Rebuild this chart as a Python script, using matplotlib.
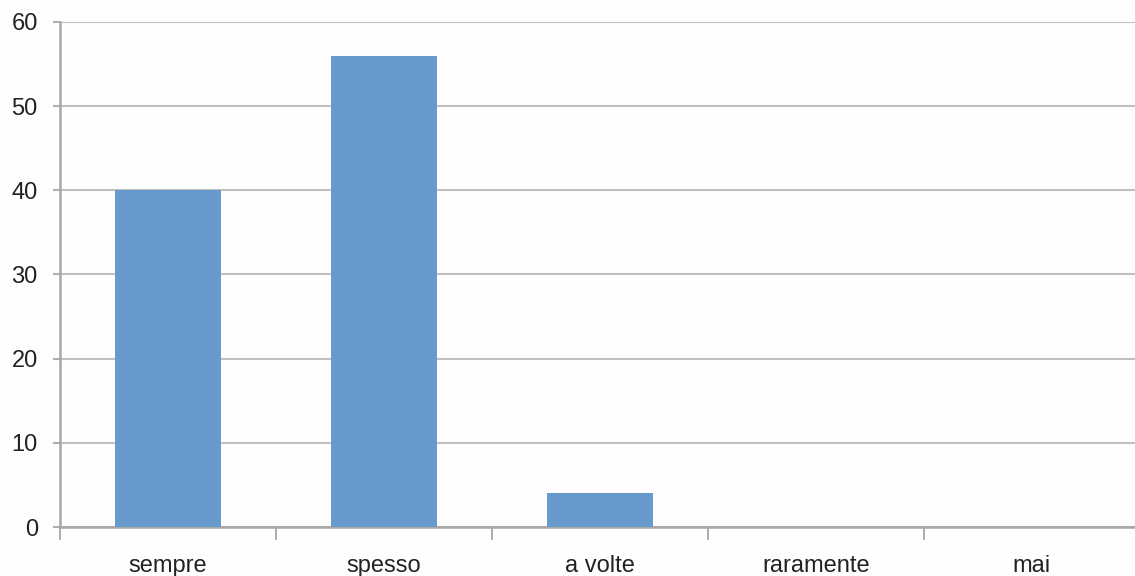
import matplotlib
matplotlib.use("Agg")
import matplotlib.pyplot as plt
import numpy as np

categories = ["sempre", "spesso", "a volte", "raramente", "mai"]
values = [40, 56, 4, 0, 0]
y_ticks = [0, 10, 20, 30, 40, 50, 60]

plt.rcParams["font.family"] = ["Liberation Sans", "DejaVu Sans"]

fig = plt.figure(figsize=(11.35, 5.76), dpi=100)
fig.patch.set_facecolor("#fdfefd")
# plot area runs slightly past the right edge of the canvas
ax = fig.add_axes([0.0529, 0.085, 0.9515, 0.877])
ax.set_facecolor("#fdfefd")

x = np.arange(len(categories))
ax.bar(x, values, width=0.49, color="#6699cc", zorder=3)

ax.set_xlim(-0.5, len(categories) - 0.5)
ax.set_ylim(0, 60)
ax.set_yticks(y_ticks)
ax.yaxis.grid(True, color="#c0c0c0", linewidth=1.5, zorder=0)

ax.set_xticks(x)
ax.set_xticklabels(categories, fontsize=17, color="#222222")
ax.tick_params(axis="x", length=0, pad=20)
ax.set_xticks(np.arange(len(categories) + 1) - 0.5, minor=True)
ax.tick_params(axis="x", which="minor", length=9, width=1.2, color="#a0a0a0")
ax.tick_params(axis="y", length=5, width=1.2, color="#a0a0a0", labelsize=17,
               labelcolor="#222222", pad=11)

for side in ["top", "right"]:
    ax.spines[side].set_visible(False)
for side in ["left", "bottom"]:
    ax.spines[side].set_color("#a8a8a8")
    ax.spines[side].set_linewidth(1.8)

fig.savefig("out.png", dpi=100)
